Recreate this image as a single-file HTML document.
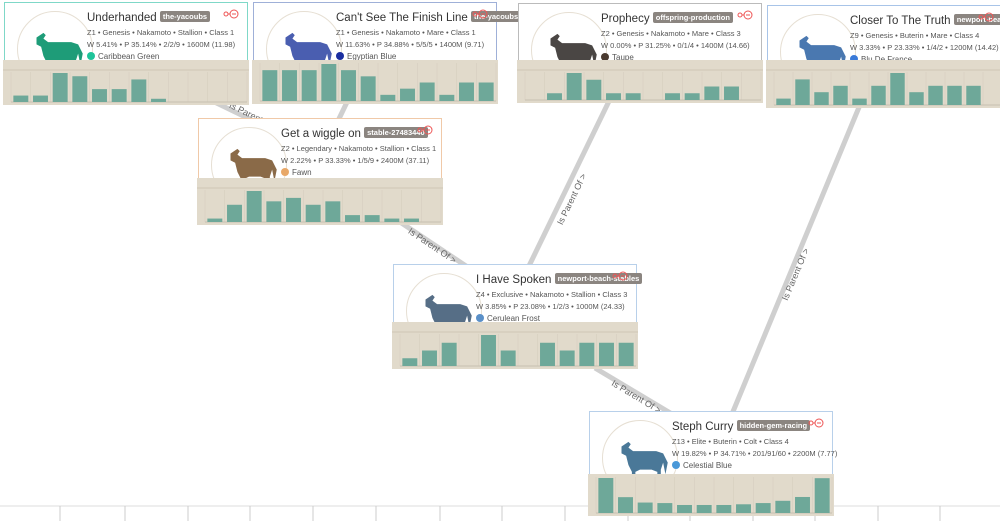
<!DOCTYPE html>
<html><head><meta charset="utf-8">
<style>
body{margin:0;width:1000px;height:521px;overflow:hidden;background:#fff;font-family:"Liberation Sans",sans-serif;position:relative}
.card{position:absolute;width:244px;height:88px;background:#fff;border:1px solid #ccc;box-sizing:border-box}
.av{position:absolute;left:12px;top:8px;width:76px;height:76px;border-radius:50%;border:1px solid #e6dfd3;box-sizing:border-box;overflow:hidden}
.t{position:absolute;left:82px;top:8px;font-size:11.5px;color:#333;white-space:nowrap}
.tag{display:inline-block;background:#8b8580;color:#fff;font-size:7.5px;font-weight:bold;padding:1px 3px;border-radius:2px;vertical-align:2px}
.l{position:absolute;left:82px;font-size:7.5px;color:#555;white-space:nowrap}
.dot{display:inline-block;width:8px;height:8px;border-radius:50%;vertical-align:-1px;margin-right:3px}
.chart{position:absolute;background:#e1dacb}
.x{position:absolute;right:8px;top:6px}
.el{position:absolute;font-size:9px;color:#666;white-space:nowrap;transform-origin:0 0}
</style></head><body>
<svg id="edges" width="1000" height="521" style="position:absolute;left:0;top:0">
<line x1="0" y1="506" x2="1000" y2="506" stroke="#ddd" stroke-width="1"/>
<g id="ticks" stroke="#ccc"></g>
<g stroke="#cfcfcf" stroke-width="5">
<line x1="200" y1="95" x2="262" y2="125"/>
<line x1="348" y1="100" x2="336" y2="125"/>
<line x1="400" y1="222" x2="475" y2="272"/>
<line x1="612" y1="95" x2="528" y2="268"/>
<line x1="595" y1="368" x2="672" y2="414"/>
<line x1="862" y1="100" x2="732" y2="414"/>
</g>
</svg>
<div class="el" style="left:232px;top:100px;transform:rotate(26deg)">Is Parent Of &gt;</div>
<div class="el" style="left:412px;top:226px;transform:rotate(34deg)">Is Parent Of &gt;</div>
<div class="el" style="left:555px;top:222px;transform:rotate(-64deg)">Is Parent Of &gt;</div>
<div class="el" style="left:615px;top:378px;transform:rotate(31deg)">Is Parent Of &gt;</div>
<div class="el" style="left:780px;top:298px;transform:rotate(-67deg)">Is Parent Of &gt;</div>
<script>
const categories=[1,2,3,4,5,6,7,8,9,10,11,12];
const valsUnderhanded=[2,2,9,8,4,4,7,1,0,0,0,0];
const valsCantSee=[5,5,5,6,5,4,1,2,3,1,3,3];
const valsProphecy=[0,1,4,3,1,1,0,1,1,2,2,0];
const valsCloser=[1,4,2,3,1,3,5,2,3,3,3,0];
const valsWiggle=[1,5,9,6,7,5,6,2,2,1,1,0];
const valsSpoken=[1,2,3,0,4,2,0,3,2,3,3,3];
const valsCurry=[201,91,60,57,46,46,46,50,57,70,92,200];
const tickLabels=[60,125,188,250,313,376,440,502,565,628,690,753,815,878,940];

const tg=document.getElementById('ticks');
tickLabels.forEach(x=>{const l=document.createElementNS('http://www.w3.org/2000/svg','line');
l.setAttribute('x1',x);l.setAttribute('x2',x);l.setAttribute('y1',506);l.setAttribute('y2',521);


tg.appendChild(l);});

const cards=[
{n:'underhanded',x:4,y:2,b:'#7fd8c8',title:'Underhanded',tag:'the-yacoubs',l1:'Z1 • Genesis • Nakamoto • Stallion • Class 1',l2:'W 5.41% • P 35.14% • 2/2/9 • 1600M (11.98)',col:'Caribbean Green',dc:'#1fc49a',hc:'#1e9c78',vals:valsUnderhanded,cy:60,ch:45,hdr:1},
{n:'cant-see',x:253,y:2,b:'#9fb0d8',title:"Can't See The Finish Line",tag:'the-yacoubs',l1:'Z1 • Genesis • Nakamoto • Mare • Class 1',l2:'W 11.63% • P 34.88% • 5/5/5 • 1400M (9.71)',col:'Egyptian Blue',dc:'#1a2ea0',hc:'#4a5eb0',vals:valsCantSee,cy:60,ch:44,hdr:0},
{n:'prophecy',x:518,y:3,b:'#bbb',title:'Prophecy',tag:'offspring-production',l1:'Z2 • Genesis • Nakamoto • Mare • Class 3',l2:'W 0.00% • P 31.25% • 0/1/4 • 1400M (14.66)',col:'Taupe',dc:'#4a3a30',hc:'#4a4644',vals:valsProphecy,cy:60,ch:43,hdr:1},
{n:'closer',x:767,y:5,b:'#a8c4e8',title:'Closer To The Truth',tag:'newport-beach-stables',l1:'Z9 • Genesis • Buterin • Mare • Class 4',l2:'W 3.33% • P 23.33% • 1/4/2 • 1200M (14.42)',col:'Blu De France',dc:'#3a7ad8',hc:'#4a78b0',vals:valsCloser,cy:60,ch:48,hdr:1,w:236},
{n:'wiggle',x:198,y:118,b:'#f0c9a8',title:'Get a wiggle on',tag:'stable-27483440',l1:'Z2 • Legendary • Nakamoto • Stallion • Class 1',l2:'W 2.22% • P 33.33% • 1/5/9 • 2400M (37.11)',col:'Fawn',dc:'#e8a868',hc:'#8a6a48',vals:valsWiggle,cy:178,ch:47,hdr:1},
{n:'spoken',x:393,y:264,b:'#b8d0ea',title:'I Have Spoken',tag:'newport-beach-stables',l1:'Z4 • Exclusive • Nakamoto • Stallion • Class 3',l2:'W 3.85% • P 23.08% • 1/2/3 • 1000M (24.33)',col:'Cerulean Frost',dc:'#5a90c8',hc:'#566e86',vals:valsSpoken,cy:322,ch:47,hdr:1},
{n:'curry',x:589,y:411,b:'#b8d0ea',title:'Steph Curry',tag:'hidden-gem-racing',l1:'Z13 • Elite • Buterin • Colt • Class 4',l2:'W 19.82% • P 34.71% • 201/91/60 • 2200M (7.77)',col:'Celestial Blue',dc:'#4a98d8',hc:'#4a7898',vals:valsCurry,cy:474,ch:42,hdr:0}
];
const horse='M14 8 L20 4 L22 6 L20 9 L24 12 L44 12 L50 14 L54 22 L52 32 L50 22 L48 28 L48 40 L45 40 L45 30 L40 28 L30 28 L26 30 L26 40 L23 40 L23 30 L20 24 L18 16 L14 14 Z';
cards.forEach(c=>{
 const w=c.w||244;
 const d=document.createElement('div');d.className='card';
 
 
 d.style.left=c.x+'px';d.style.top=c.y+'px';d.style.width=w+'px';d.style.borderColor=c.b;
 d.innerHTML=`<div class="av"><svg width="74" height="74" viewBox="-2 -14 64 64" style="display:block"><path d="${horse}" fill="${c.hc}"/></svg></div>
 <div class="t">${c.title} <span class="tag">${c.tag}</span></div>
 <div class="l" style="top:25px">${c.l1}</div>
 <div class="l" style="top:37px">${c.l2}</div>
 <div class="l" style="top:49px;font-size:8px"><span class="dot" style="background:${c.dc}"></span>${c.col}</div>
 <svg class="x" width="16" height="10"><circle cx="3" cy="5" r="2" fill="none" stroke="#e55"/><line x1="5" y1="5" x2="7" y2="5" stroke="#e55"/><circle cx="11" cy="5" r="4" fill="none" stroke="#e55"/><line x1="9" y1="5" x2="13" y2="5" stroke="#e55"/></svg>`;
 document.body.appendChild(d);
 const cw=w+2, ch=c.ch;
 const ns='http://www.w3.org/2000/svg';
 const s=document.createElementNS(ns,'svg');
 s.setAttribute('class','chart');s.setAttribute('width',cw);s.setAttribute('height',ch);
 
 
 s.style.left=(c.x-1)+'px';s.style.top=c.cy+'px';
 const top=c.hdr?12:3, bot=ch-3, pl=8, pr=cw-2;
 const mx=Math.max(...c.vals);
 const slot=(pr-pl)/categories.length;
 const xs=i=>pl+i*slot, ys=v=>bot-(v/mx)*(bot-top-1);
 let g='';
 if(c.hdr) g+=`<line x1="0" y1="${top-2}" x2="${cw}" y2="${top-2}" stroke="#cfc7b6"/>`;
 for(let i=0;i<=categories.length;i++) g+=`<line x1="${xs(i)}" y1="${top}" x2="${xs(i)}" y2="${bot}" stroke="#d3ccbc" stroke-width="0.5"/>`;
 g+=`<line x1="${pl}" y1="${bot}" x2="${pr}" y2="${bot}" stroke="#c8c0b0"/>`;
 s.innerHTML=g;
 c.vals.forEach((v,i)=>{
  if(!v) return;
  const r=document.createElementNS(ns,'rect');
  r.setAttribute('x',xs(i)+slot*0.12);r.setAttribute('width',slot*0.76);
  r.setAttribute('y',ys(v));r.setAttribute('height',bot-ys(v));
  r.setAttribute('fill','#6ea899');
  
  
  s.appendChild(r);
 });
 document.body.appendChild(s);
});
</script>
</body></html>
